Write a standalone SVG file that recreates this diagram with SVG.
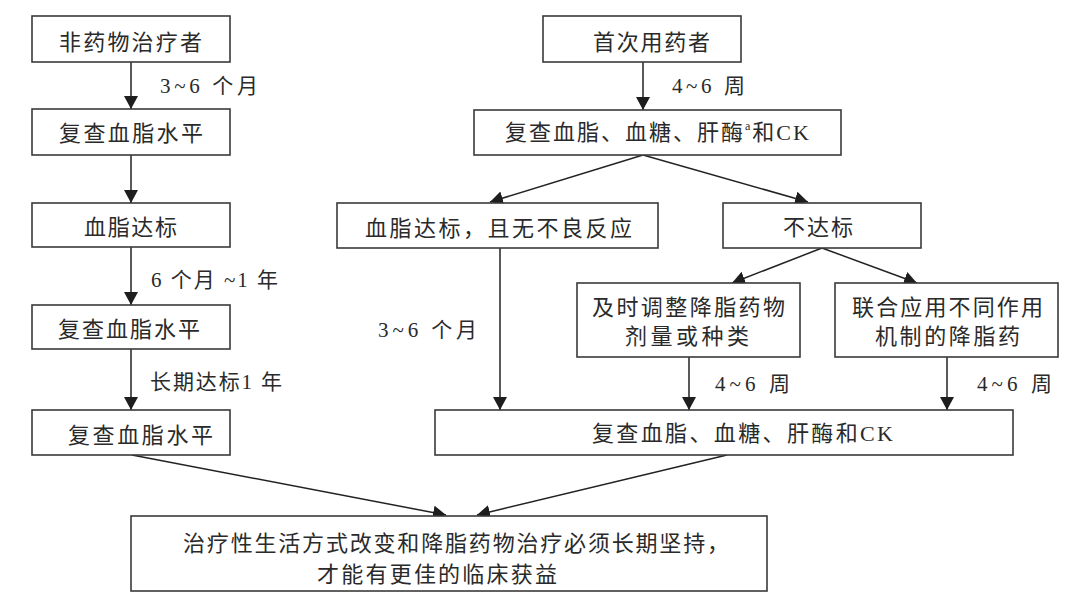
<svg xmlns="http://www.w3.org/2000/svg" width="1080" height="601" viewBox="0 0 1080 601">
<style>
.box{fill:#fff;stroke:#3a3a3a;stroke-width:1.6}
.t{font-family:"Liberation Serif","Noto Sans CJK SC",serif;font-size:22px;fill:#2a2a2a;dominant-baseline:central}
.c{font-family:"Noto Sans CJK SC","Liberation Serif",sans-serif;font-size:22px;fill:#2a2a2a;dominant-baseline:central}
.l{font-family:"Liberation Serif","Noto Sans CJK SC",serif;font-size:21px;fill:#2a2a2a;dominant-baseline:central}
.e{stroke:#222;stroke-width:1.5;fill:none;marker-end:url(#ah)}
</style>
<defs>
<marker id="ah" viewBox="0 0 13 14" refX="13" refY="7" markerWidth="13" markerHeight="14" markerUnits="userSpaceOnUse" orient="auto">
<path d="M0,0 L13,7 L0,14 z" fill="#1e1e1e"/>
</marker>
</defs>
<rect width="1080" height="601" fill="#fff"/>

<g id="connectors">
<line class="e" x1="131" y1="62" x2="131" y2="109"/>
<line class="e" x1="131" y1="155" x2="131" y2="203"/>
<line class="e" x1="131" y1="247" x2="131" y2="305"/>
<line class="e" x1="131" y1="349" x2="131" y2="410"/>
<line class="e" x1="643" y1="62" x2="643" y2="110"/>
<line class="e" x1="643" y1="155" x2="490" y2="202"/>
<line class="e" x1="643" y1="155" x2="808" y2="202"/>
<line class="e" x1="500" y1="248" x2="500" y2="410"/>
<line class="e" x1="822" y1="248" x2="732" y2="283"/>
<line class="e" x1="822" y1="248" x2="917" y2="283"/>
<line class="e" x1="689" y1="357" x2="689" y2="410"/>
<line class="e" x1="947" y1="357" x2="947" y2="410"/>
<line class="e" x1="132" y1="455" x2="446" y2="515"/>
<line class="e" x1="727" y1="455" x2="477" y2="515"/>
<text class="l" x="160" y="86" textLength="98" lengthAdjust="spacing">3~6 个月</text>
<text class="l" x="151" y="280" textLength="127" lengthAdjust="spacing">6 个月 ~1 年</text>
<text class="l" x="150" y="382" textLength="132" lengthAdjust="spacing">长期达标1 年</text>
<text class="l" x="672" y="86" textLength="73" lengthAdjust="spacing">4~6 周</text>
<text class="l" x="378" y="330" textLength="99" lengthAdjust="spacing">3~6 个月</text>
<text class="l" x="715" y="384" textLength="75" lengthAdjust="spacing">4~6 周</text>
<text class="l" x="977" y="384" textLength="75" lengthAdjust="spacing">4~6 周</text>
</g>

<g id="n1"><rect class="box" x="32" y="16" width="198" height="46"/><text class="c" x="59" y="40" textLength="143" lengthAdjust="spacing">非药物治疗者</text></g>
<g id="n2"><rect class="box" x="32" y="109" width="198" height="46"/><text class="c" x="59" y="131" textLength="144" lengthAdjust="spacing">复查血脂水平</text></g>
<g id="n3"><rect class="box" x="32" y="203" width="198" height="44"/><text class="c" x="84" y="225" textLength="93" lengthAdjust="spacing">血脂达标</text></g>
<g id="n4"><rect class="box" x="32" y="305" width="198" height="44"/><text class="c" x="58" y="327" textLength="142" lengthAdjust="spacing">复查血脂水平</text></g>
<g id="n5"><rect class="box" x="32" y="410" width="198" height="45"/><text class="c" x="68" y="433" textLength="145" lengthAdjust="spacing">复查血脂水平</text></g>

<g id="n6"><rect class="box" x="543" y="16" width="198" height="46"/><text class="c" x="593" y="40" textLength="117" lengthAdjust="spacing">首次用药者</text></g>
<g id="n7"><rect class="box" x="474" y="110" width="367" height="45"/><text class="t" x="505" y="132" letter-spacing="2">复查血脂、血糖、肝酶<tspan font-size="12" dy="-6">a</tspan><tspan dy="6">和CK</tspan></text></g>
<g id="n8"><rect class="box" x="337" y="203" width="321" height="45"/><text class="c" x="365" y="226" textLength="267" lengthAdjust="spacing">血脂达标，且无不良反应</text></g>
<g id="n9"><rect class="box" x="723" y="203" width="198" height="45"/><text class="c" x="783" y="225" textLength="70" lengthAdjust="spacing">不达标</text></g>
<g id="n10"><rect class="box" x="577" y="283" width="223" height="74"/><text class="c" x="592" y="305" textLength="193" lengthAdjust="spacing">及时调整降脂药物</text><text class="c" x="625" y="334" textLength="124" lengthAdjust="spacing">剂量或种类</text></g>
<g id="n11"><rect class="box" x="835" y="283" width="223" height="74"/><text class="c" x="852" y="305" textLength="191" lengthAdjust="spacing">联合应用不同作用</text><text class="c" x="875" y="334" textLength="145" lengthAdjust="spacing">机制的降脂药</text></g>
<g id="n12"><rect class="box" x="435" y="410" width="578" height="45"/><text class="t" x="592" y="433" textLength="301" lengthAdjust="spacing">复查血脂、血糖、肝酶和CK</text></g>
<g id="n13"><rect class="box" x="131" y="516" width="636" height="75"/><text class="c" x="183" y="540.5" font-size="21" textLength="546" lengthAdjust="spacing">治疗性生活方式改变和降脂药物治疗必须长期坚持，</text><text class="c" x="317" y="571.5" font-size="21" textLength="240" lengthAdjust="spacing">才能有更佳的临床获益</text></g>
</svg>
